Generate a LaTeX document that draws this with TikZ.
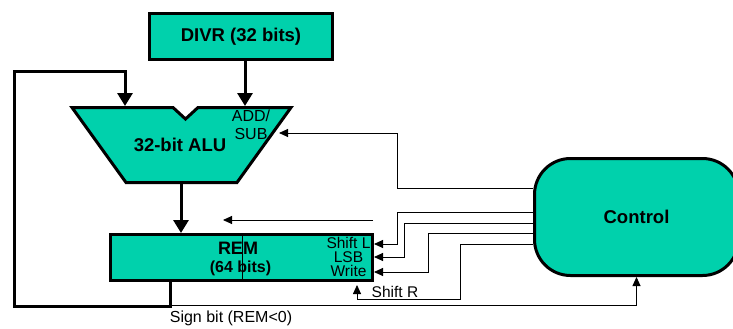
\documentclass[tikz,border=0pt]{standalone}
\usepackage{fontspec}
\setmainfont{Liberation Sans}
\usepackage{xcolor}
\usetikzlibrary{arrows.meta,calc,positioning}
\definecolor{RegTeal}{HTML}{00D1AC}

\begin{document}
\begin{tikzpicture}[x=1pt, y=-1pt,
    bus/.style={line width=3pt},
    wire/.style={line width=0.9pt},
    bigtip/.style={-{Triangle[length=13pt,width=15pt]}},
    smalltip/.style={-{Triangle[length=9pt,width=8pt]}},
    regbox/.style={draw, line width=3pt, fill=RegTeal, inner sep=0pt, align=center,
        font=\bfseries\fontsize{18.5}{20}\selectfont},
    sig/.style={inner sep=0pt, font=\fontsize{16}{17}\selectfont},
    port/.style={inner sep=0pt, font=\fontsize{15.5}{16}\selectfont}]

    \useasboundingbox (0,0) rectangle (733,329);

    % Registers
    \node[regbox, minimum width=183pt, minimum height=46pt] (DIVR) at (241,36.5) {DIVR (32 bits)};
    \node[regbox, minimum width=262pt, minimum height=46pt] (REM) at (241.5,257.5) {};
    \draw[line width=1pt] (REM.north -| 242,0) -- (REM.south -| 242,0);
    \node[inner sep=0pt, font=\bfseries\fontsize{18}{20}\selectfont] (remname) at (238,248) {REM};
    \node[inner sep=0pt, font=\bfseries\fontsize{16}{18}\selectfont] (remsize) at (240.5,268) {(64 bits)};

    % Control unit
    \node[regbox, rounded corners=36pt, minimum width=204pt, minimum height=117pt] (Control) at (636.5,217) {Control};

    % ALU outline with notch
    \coordinate (alu-tl) at (72,107.5);
    \coordinate (alu-tr) at (291,107.5);
    \coordinate (alu-br) at (237,182.5);
    \coordinate (alu-bl) at (126,182.5);
    \draw[line width=3pt, fill=RegTeal, line join=miter]
        (alu-tl) -- (173,107.5) -- (185.5,119) -- (198,107.5) -- (alu-tr) -- (alu-br) -- (alu-bl) -- cycle;
    \node[inner sep=0pt, font=\bfseries\fontsize{18.5}{20}\selectfont] (ALU) at (180,145) {32-bit ALU};
    \node[sig] (add) at (251,116) {ADD/};
    \node[sig] (sub) at (251,134) {SUB};

    % ALU ports
    \coordinate (alu-a) at (125,106);
    \coordinate (alu-b) at (245,106);
    \coordinate (alu-as) at (279,133);
    \coordinate (alu-out) at (181,182.5);

    % Datapath
    \draw[bus, bigtip] (DIVR.south -| alu-b) -- (alu-b);
    \draw[bus, bigtip] (alu-out) -- (REM.north -| alu-out);
    \coordinate (sign) at (170,280.5);
    \coordinate (loop-bl) at (14,306);
    \coordinate (loop-tr) at (125,71);
    \draw[bus, bigtip] (sign) |- (loop-bl) |- (loop-tr) -- (alu-a);

    % Free arrow over REM
    \coordinate (free-start) at (373,220);
    \coordinate (free-end) at (223,220);
    \draw[wire, smalltip] (free-start) -- (free-end);

    % Control signals
    \draw[wire, smalltip] (Control.west |- 0,188) -| (397,133) -- (alu-as);
    \draw[wire, smalltip] (Control.west |- 0,212) -| (397,244) -- (REM.east |- 0,244);
    \draw[wire, smalltip] (Control.west |- 0,223) -| (404,257) -- (REM.east |- 0,257);
    \draw[wire, smalltip] (Control.west |- 0,233) -| (428,272) -- (REM.east |- 0,272);
    \coordinate (sr-a) at (460,299);
    \coordinate (sr-b) at (357,299);
    \coordinate (sr-tip) at (357,285);
    \draw[wire, smalltip] (Control.west |- 0,244) -| (sr-a) -- (sr-b) -- (sr-tip);

    % Sign bit to control
    \coordinate (sign-tap) at (170,305);
    \draw[wire, smalltip] (sign-tap) -| (Control.south);

    % Signal labels
    \node[port] (shiftl) at (348.5,242.5) {Shift L};
    \node[port] (lsb) at (348.5,257) {LSB};
    \node[port] (write) at (348.5,271) {Write};
    \node[port] (shiftr) at (395,291.5) {Shift R};
    \node[sig] (signlbl) at (231,318) {Sign bit (REM<0)};

\end{tikzpicture}
\end{document}
